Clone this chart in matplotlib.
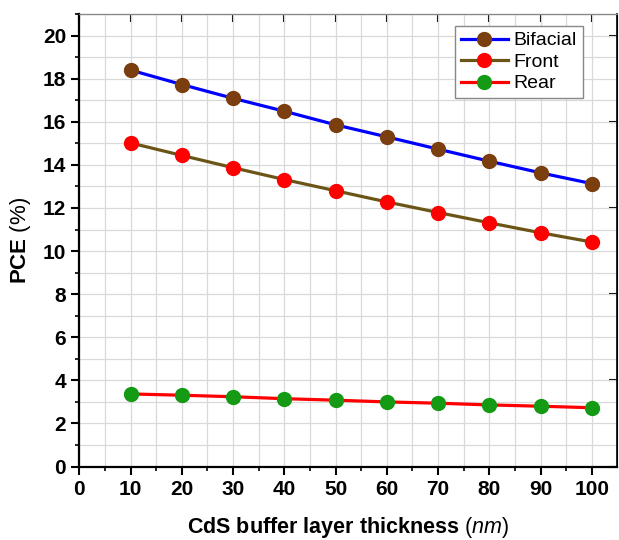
import matplotlib
matplotlib.use("Agg")
import matplotlib.pyplot as plt
from matplotlib.ticker import MultipleLocator

plt.rcParams['font.family'] = ['Liberation Sans', 'DejaVu Sans']
plt.rcParams['mathtext.fontset'] = 'custom'
plt.rcParams['mathtext.it'] = 'Liberation Sans:italic'
plt.rcParams['mathtext.rm'] = 'Liberation Sans'
plt.rcParams['mathtext.bf'] = 'Liberation Sans:bold'

# CdS thickness (nm)
thickness = [10, 20, 30, 40, 50, 60, 70, 80, 90, 100]
# PCE (%)
bifacial = [18.40, 17.73, 17.09, 16.49, 15.86, 15.30, 14.73, 14.17, 13.63, 13.13]
front = [15.02, 14.44, 13.87, 13.32, 12.80, 12.28, 11.79, 11.31, 10.85, 10.42]
rear = [3.37, 3.31, 3.24, 3.15, 3.08, 3.00, 2.94, 2.86, 2.80, 2.73]

series = [
    ("Bifacial", bifacial, "#0000ff", "#7a3e0f"),
    ("Front", front, "#6b5516", "#ff0000"),
    ("Rear", rear, "#ff0000", "#149a14"),
]

fig = plt.figure(figsize=(6.19, 5.40), dpi=100)
ax = fig.add_axes([0.128, 0.136, 0.868, 0.838])

for name, vals, lc, mc in series:
    ax.plot(thickness, vals, color=lc, lw=2.3, marker='o', ms=10,
            mfc=mc, mec=mc, label=name, zorder=3)

ax.set_xlim(0, 104.8)
ax.set_ylim(0, 21)
ax.xaxis.set_major_locator(MultipleLocator(10))
ax.xaxis.set_minor_locator(MultipleLocator(5))
ax.yaxis.set_major_locator(MultipleLocator(2))
ax.yaxis.set_minor_locator(MultipleLocator(1))
ax.grid(True, which='both', color='#d9d9d9', lw=0.9, zorder=0)

ax.tick_params(which='major', length=6, width=1.5, labelsize=15)
ax.tick_params(which='minor', length=3, width=1.2)
for lab in ax.get_xticklabels() + ax.get_yticklabels():
    lab.set_fontweight('bold')

top = ax.secondary_xaxis('top')
top.xaxis.set_major_locator(MultipleLocator(10))
top.tick_params(direction='in', labeltop=False, length=6, width=1.5)
right = ax.secondary_yaxis('right')
right.yaxis.set_major_locator(MultipleLocator(4))
right.tick_params(direction='in', labelright=False, length=6, width=1.5)
for s in ['left', 'bottom']:
    ax.spines[s].set_linewidth(1.6)
ax.spines['top'].set_color('#888888')
ax.spines['right'].set_linewidth(1.2)

ax.set_xlabel(r"$\mathbf{CdS\ buffer\ layer\ thickness}$ ($\mathit{nm}$)",
              fontsize=15.5, labelpad=12)
ax.set_ylabel(r"$\mathbf{PCE}$ (%)", fontsize=16, labelpad=7)

leg = ax.legend(loc='upper right', bbox_to_anchor=(0.955, 0.995), fontsize=14,
                handlelength=2.4, handletextpad=0.3, borderpad=0.3,
                labelspacing=0.2, fancybox=False, edgecolor='#888888',
                framealpha=1)
leg.get_frame().set_linewidth(1.0)

fig.savefig("out.png", dpi=100)
